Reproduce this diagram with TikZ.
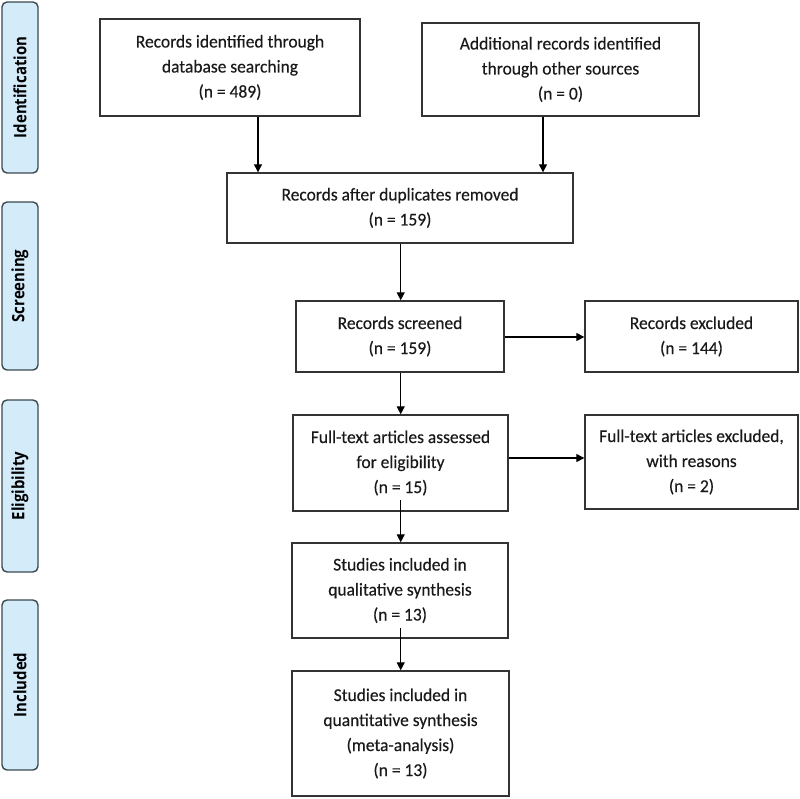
\documentclass[tikz,border=0pt]{standalone}
\usepackage{fontspec}
\setmainfont{Carlito}[FakeStretch=0.97,FakeBold=0.3]
\newfontfamily\labfont{Open Sans}[FakeStretch=0.88]
\usetikzlibrary{arrows.meta}
\definecolor{sidefill}{HTML}{D4EBFA}
\definecolor{sideline}{HTML}{3A4A50}
\definecolor{boxline}{HTML}{333333}
\begin{document}
\begin{tikzpicture}[x=1pt,y=-1pt,
  box/.style={draw=boxline, line width=1.4pt, align=center, inner sep=2pt,
    font=\fontsize{18}{25}\selectfont, text=black!90},
  side/.style={draw=sideline, fill=sidefill, line width=1.4pt, rounded corners=5pt,
    minimum width=36pt, inner sep=0pt},
  sidetext/.style={rotate=90, font=\labfont\bfseries\fontsize{17}{19}\selectfont},
  arr/.style={draw=black, line width=1.3pt, -{Triangle[length=8pt,width=8pt]}}]
\useasboundingbox (0,0) rectangle (800,799);
% side labels
\node[side, minimum height=171pt] (s1) at (20,87.5) {};
\node[sidetext] (t1) at (s1.center) {Identification};
\node[side, minimum height=168pt] (s2) at (20,286) {};
\node[sidetext] (t2) at (s2.center) {Screening};
\node[side, minimum height=172pt] (s3) at (20,486) {};
\node[sidetext] (t3) at (s3.center) {Eligibility};
\node[side, minimum height=170pt] (s4) at (20,685) {};
\node[sidetext] (t4) at (s4.center) {Included};
% boxes
\node[box, minimum width=260pt, minimum height=97pt] (b1) at (230,67.5)
  {Records identified through\\database searching\\(n = 489)};
\node[box, minimum width=277pt, minimum height=93pt] (b2) at (560.5,69.5)
  {Additional records identified\\through other sources\\(n = 0)};
\node[box, minimum width=346pt, minimum height=70pt] (b3) at (400,208)
  {Records after duplicates removed\\(n = 159)};
\node[box, minimum width=208pt, minimum height=71pt] (b4) at (400,336.5)
  {Records screened\\(n = 159)};
\node[box, minimum width=213pt, minimum height=71pt] (b5) at (691.5,336.5)
  {Records excluded\\(n = 144)};
\node[box, minimum width=215pt, minimum height=96pt] (b6) at (400.5,463)
  {Full-text articles assessed\\for eligibility\\(n = 15)};
\node[box, minimum width=213pt, minimum height=94pt] (b7) at (691.5,462)
  {Full-text articles excluded,\\with reasons\\(n = 2)};
\node[box, minimum width=216pt, minimum height=95pt] (b8) at (400,590.5)
  {Studies included in\\qualitative synthesis\\(n = 13)};
\node[box, minimum width=217pt, minimum height=125pt] (b9) at (400.5,733.5)
  {Studies included in\\quantitative synthesis\\(meta-analysis)\\(n = 13)};
% connector columns
\coordinate (c1) at (258,0);
\coordinate (c2) at (543,0);
\coordinate (c3) at (400.7,0);
\coordinate (r1) at (0,337);
\coordinate (r2) at (0,458);
\coordinate (st6) at (400.7,500);
\coordinate (st8) at (400.7,628);
\draw[arr] (b1.south -| c1) -- (b3.north -| c1);
\draw[arr] (b2.south -| c2) -- (b3.north -| c2);
\draw[arr] (b3.south -| c3) -- (b4.north -| c3);
\draw[arr] (b4.south -| c3) -- (b6.north -| c3);
\draw[arr] (st6) -- (b8.north -| c3);
\draw[arr] (st8) -- (b9.north -| c3);
\draw[arr] (b4.east |- r1) -- (b5.west |- r1);
\draw[arr] (b6.east |- r2) -- (b7.west |- r2);
\end{tikzpicture}
\end{document}
